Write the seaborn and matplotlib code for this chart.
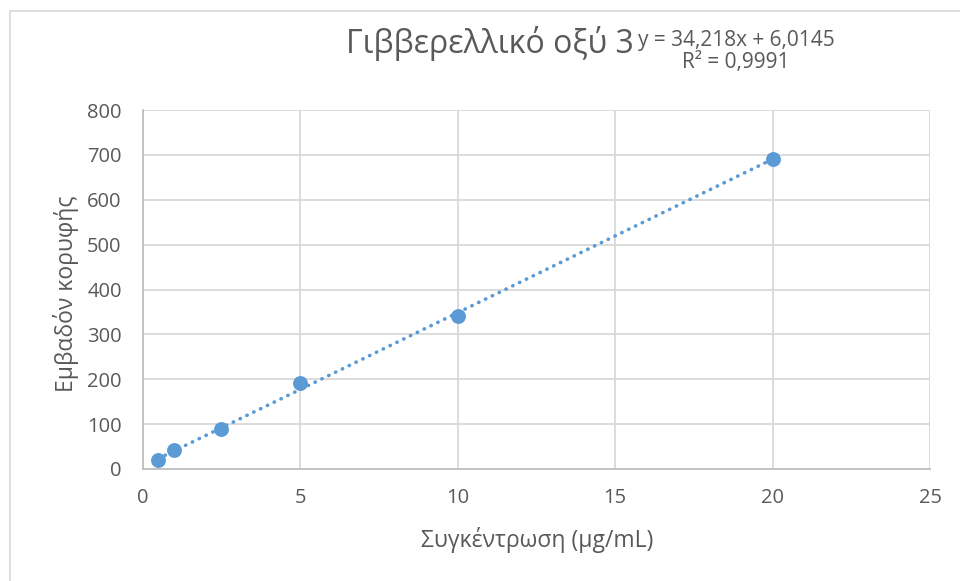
import matplotlib
matplotlib.use("Agg")
import matplotlib.pyplot as plt
import seaborn as sns
import numpy as np
import pandas as pd
from matplotlib.patches import Rectangle

# Calibration data: concentration vs peak area
concentration = [0.5, 1, 2.5, 5, 10, 20]
peak_area = [20, 42, 89, 192, 342, 690]

# Linear trendline coefficients and fit quality
slope = 34.218
intercept = 6.0145
r_squared = 0.9991

x_ticks = [0, 5, 10, 15, 20, 25]
y_ticks = [0, 100, 200, 300, 400, 500, 600, 700, 800]

title_text = "Γιββερελλικό οξύ 3"
eq_text = "y = 34,218x + 6,0145"
r2_text = "R² = 0,9991"
x_label = "Συγκέντρωση (μg/mL)"
y_label = "Εμβαδόν κορυφής"

sns.set_theme(style="whitegrid")
plt.rcParams["font.family"] = ["Open Sans", "DejaVu Sans"]

blue = "#5b9bd5"
text_grey = "#595959"
grid_grey = "#d9d9d9"

df = pd.DataFrame({"conc": concentration, "area": peak_area})

W, H = 960, 581
fig = plt.figure(figsize=(W / 100, H / 100), dpi=100)
fig.patch.set_facecolor("white")

# chart frame
fig.add_artist(Rectangle((10 / W, -0.1), 1.2, (H - 11) / H + 0.1, transform=fig.transFigure,
                         fill=False, edgecolor="#d9d9d9", linewidth=1.2))

left, right, top, bottom = 142.5, 930, 110, 469
ax = fig.add_axes([left / W, (H - bottom) / H, (right - left) / W, (bottom - top) / H])
ax.set_facecolor("white")

# trendline over the data range
xs = np.array([min(concentration), max(concentration)])
ax.plot(xs, slope * xs + intercept, linestyle=(0, (0.1, 2.0)), dash_capstyle="round",
        color=blue, linewidth=2.6, zorder=2)

sns.scatterplot(data=df, x="conc", y="area", ax=ax, s=115, color=blue,
                edgecolor=blue, linewidth=0, zorder=3, legend=False)

ax.set_xlim(0, 25)
ax.set_ylim(0, 800)
ax.set_xticks(x_ticks)
ax.set_yticks(y_ticks)
ax.set_xticklabels([str(t) for t in x_ticks])
ax.set_yticklabels([str(t) for t in y_ticks])
ax.tick_params(axis="both", length=0, labelsize=14.5, labelcolor=text_grey)
ax.tick_params(axis="x", pad=14)
ax.tick_params(axis="y", pad=15)

ax.grid(True, color=grid_grey, linewidth=1.3)
for side in ["top", "right"]:
    ax.spines[side].set_visible(False)
for side in ["left", "bottom"]:
    ax.spines[side].set_color("#bfbfbf")
    ax.spines[side].set_linewidth(1.3)

ax.set_xlabel(x_label, fontsize=16.5, color=text_grey)
ax.set_ylabel(y_label, fontsize=16.5, color=text_grey)
ax.xaxis.label.set_va("center")
ax.yaxis.label.set_va("center")
ax.xaxis.set_label_coords((537 - left) / (right - left), (bottom - 540) / (bottom - top))
ax.yaxis.set_label_coords((66 - left) / (right - left), (bottom - 294) / (bottom - top))

fig.text(490 / W, 1 - 53 / H, title_text, fontsize=23, color=text_grey,
         ha="center", va="baseline")
fig.text(736 / W, 1 - 46 / H, eq_text, fontsize=15, color=text_grey,
         ha="center", va="baseline")
fig.text(736 / W, 1 - 68 / H, r2_text, fontsize=15, color=text_grey,
         ha="center", va="baseline")

fig.savefig("out.png", dpi=100, facecolor="white")
